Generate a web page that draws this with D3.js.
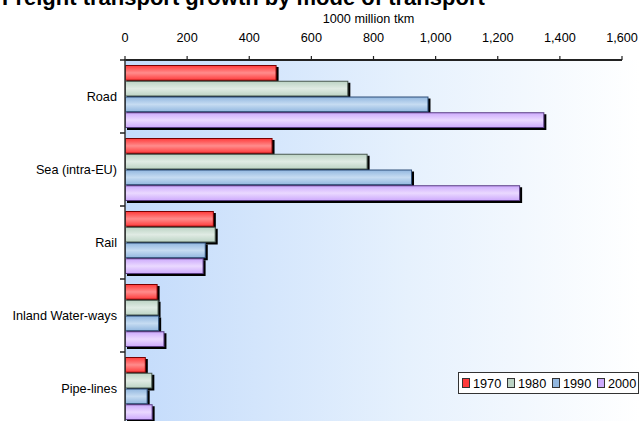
<!DOCTYPE html>
<html><head><meta charset="utf-8">
<script src="https://cdn.jsdelivr.net/npm/d3@7"></script>
<style>
body{margin:0;background:#fff}
svg{display:block}
text{font-family:"Liberation Sans",Arial,sans-serif;fill:#000}
</style>
</head><body>
<script>
const categories = ["Road", "Sea (intra-EU)", "Rail", "Inland Water-ways", "Pipe-lines"];
const years = ["1970", "1980", "1990", "2000"];
const v1970 = [488, 475, 286, 105, 67];
const v1980 = [719, 781, 292, 108, 88];
const v1990 = [977, 924, 260, 110, 73];
const v2000 = [1350, 1272, 253, 127, 89];
const xTicks = [0, 200, 400, 600, 800, 1000, 1200, 1400, 1600];
const titleText = "Freight transport growth by mode of transport";
const axisTitle = "1000 million tkm";

const seriesValues = [v1970, v1980, v1990, v2000];
const styles = [
  {base:"#ff3a3a", light:"#ff8c8c", stroke:"#7a0000"},
  {base:"#bcd3c4", light:"#e0ebe4", stroke:"#4a5a50"},
  {base:"#92b7df", light:"#c6dcf2", stroke:"#2f4f78"},
  {base:"#cdaafc", light:"#ead9ff", stroke:"#5a3d84"}
];

const W = 640, H = 421;
const svg = d3.select("body").append("svg").attr("width", W).attr("height", H);
const defs = svg.append("defs");

const bg = defs.append("linearGradient").attr("id","bg").attr("x1",0).attr("x2",1).attr("y1",0).attr("y2",0);
bg.append("stop").attr("offset",0).attr("stop-color","#c3dbfb");
bg.append("stop").attr("offset",0.55).attr("stop-color","#e6f1fd");
bg.append("stop").attr("offset",1).attr("stop-color","#ffffff");

styles.forEach((s,i)=>{
  const g = defs.append("linearGradient").attr("id","g"+i).attr("x1",0).attr("x2",0).attr("y1",0).attr("y2",1);
  g.append("stop").attr("offset",0).attr("stop-color",s.base);
  g.append("stop").attr("offset",0.5).attr("stop-color",s.light);
  g.append("stop").attr("offset",1).attr("stop-color",s.base);
});

const x = d3.scaleLinear().domain([0, 1600]).range([125, 622]);
const y = d3.scaleBand().domain(categories).range([60, 425]).paddingInner(0.137).paddingOuter(0.0685);
const yi = d3.scaleBand().domain(years).range([0, y.bandwidth()]);

// title (cut off at top, as in the reference)
svg.append("text").attr("x", 2).attr("y", 5)
  .style("font-size","22px").style("font-weight","bold").text(titleText);

// plot background
svg.append("rect").attr("x", x(0)).attr("y", 60).attr("width", W - x(0)).attr("height", H - 60)
  .attr("fill","url(#bg)");

// axis title
svg.append("text").attr("x", (x(0)+x(1600))/2 - 5).attr("y", 23).attr("text-anchor","middle")
  .style("font-size","12.7px").text(axisTitle);

// x ticks & labels
const fmt = d3.format(",");
svg.selectAll(".xt").data(xTicks).enter().append("line")
  .attr("x1", d=>x(d)).attr("x2", d=>x(d)).attr("y1", 56).attr("y2", 60)
  .attr("stroke","#222").attr("stroke-width",1.2);
svg.selectAll(".xl").data(xTicks).enter().append("text")
  .attr("x", d=>x(d)).attr("y", 42).attr("text-anchor","middle")
  .style("font-size","12.7px").text(d=>fmt(d));

// bars: shadows first
const groups = [];
categories.forEach((c,ci)=>{
  years.forEach((yr,si)=>{
    groups.push({c, yr, si, v: seriesValues[si][ci]});
  });
});
svg.selectAll(".sh").data(groups).enter().append("rect")
  .attr("x", x(0)+2).attr("y", d=>y(d.c)+yi(d.yr)+2)
  .attr("width", d=>x(d.v)-x(0)).attr("height", yi.bandwidth())
  .attr("fill","#000");
svg.selectAll(".bar").data(groups).enter().append("rect")
  .attr("x", x(0)+0.5).attr("y", d=>y(d.c)+yi(d.yr)+0.5)
  .attr("width", d=>x(d.v)-x(0)-1).attr("height", yi.bandwidth()-1)
  .attr("fill", d=>"url(#g"+d.si+")").attr("stroke", d=>styles[d.si].stroke).attr("stroke-width",1);

// axes lines
svg.append("line").attr("x1", x(0)).attr("x2", x(1600)).attr("y1", 60).attr("y2", 60)
  .attr("stroke","#222").attr("stroke-width",2);
svg.append("line").attr("x1", x(0)).attr("x2", x(0)).attr("y1", 59).attr("y2", H)
  .attr("stroke","#333").attr("stroke-width",1.5);

// category boundary ticks
const bounds = d3.range(categories.length + 1).map(i => y.range()[0] + i * y.step());
svg.selectAll(".yt").data(bounds).enter().append("line")
  .attr("x1", x(0)-5).attr("x2", x(0)).attr("y1", d=>d).attr("y2", d=>d)
  .attr("stroke","#222").attr("stroke-width",1.5);

// category labels
svg.selectAll(".yl").data(categories).enter().append("text")
  .attr("x", 117).attr("y", d=>y(d)+y.bandwidth()/2+4.5).attr("text-anchor","end")
  .style("font-size","12.7px").text(d=>d);

// legend
const lg = svg.append("g");
lg.append("rect").attr("x", 458.5).attr("y", 372.5).attr("width", 180).attr("height", 21)
  .attr("fill","#fff").attr("stroke","#333");
years.forEach((yr,i)=>{
  lg.append("rect").attr("x", 462.5 + i*45).attr("y", 378.5).attr("width", 7).attr("height", 9)
    .attr("fill", styles[i].base).attr("stroke", "#333");
  lg.append("text").attr("x", 473 + i*45).attr("y", 388).style("font-size","12.7px").text(yr);
});
</script>
</body></html>
